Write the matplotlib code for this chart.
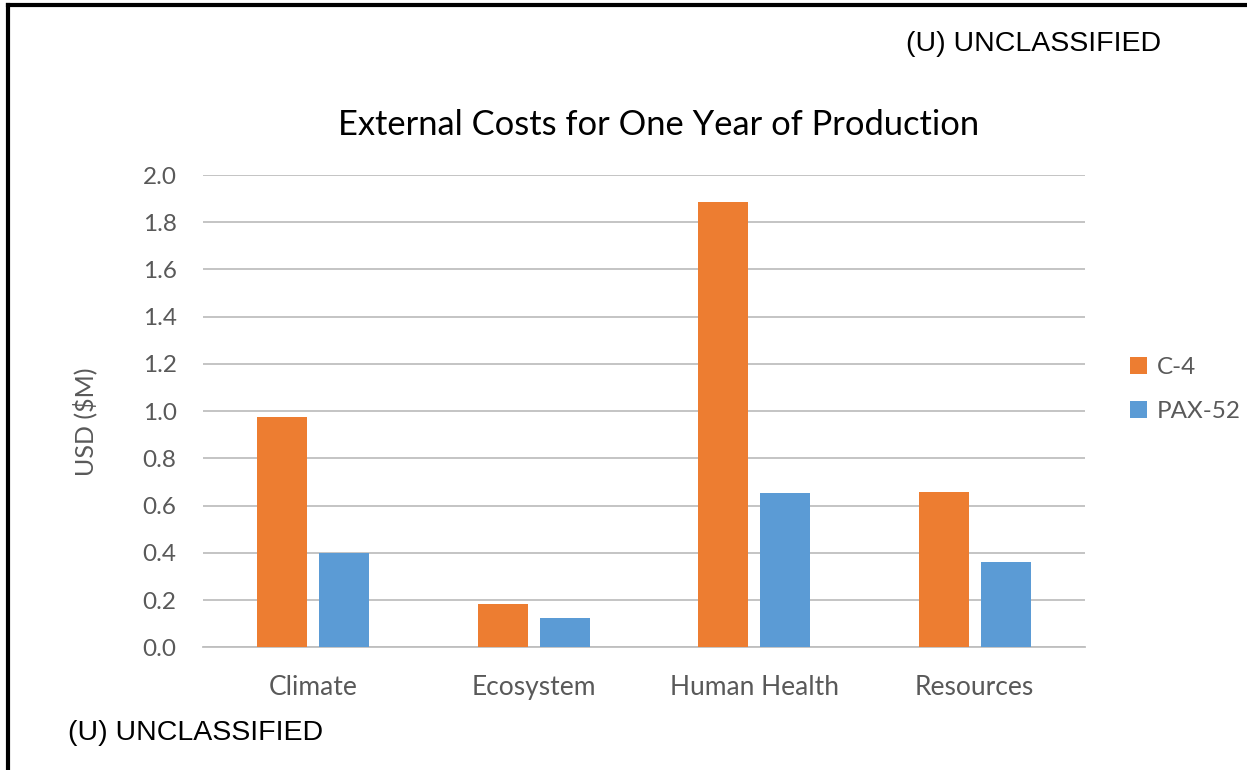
import matplotlib
matplotlib.use("Agg")
import matplotlib.pyplot as plt
import numpy as np
from matplotlib.lines import Line2D
from matplotlib.patches import Patch

categories = ["Climate", "Ecosystem", "Human Health", "Resources"]
c4_values = [0.976, 0.183, 1.887, 0.656]
pax52_values = [0.40, 0.124, 0.655, 0.362]
series_names = ["C-4", "PAX-52"]
y_ticks = [0.0, 0.2, 0.4, 0.6, 0.8, 1.0, 1.2, 1.4, 1.6, 1.8, 2.0]

ORANGE = "#ED7D31"
BLUE = "#5B9BD5"
GRID = "#BFBFBF"
TICK = "#595959"
FONT = ["Lato", "DejaVu Sans"]
MARK_FONT = ["Liberation Sans", "DejaVu Sans"]

fig = plt.figure(figsize=(12.47, 7.70), dpi=100)
fig.patch.set_facecolor("white")

ax = fig.add_axes([0.1628, 0.1594, 0.870 - 0.1628, 0.7727 - 0.1594])

x = np.arange(len(categories))
width = 0.227
offset = 0.141
ax.bar(x - offset, c4_values, width, color=ORANGE, label=series_names[0], zorder=3)
ax.bar(x + offset, pax52_values, width, color=BLUE, label=series_names[1], zorder=3)

ax.set_xlim(-0.5, len(categories) - 0.5)
ax.set_ylim(0, 2.0)
ax.set_yticks(y_ticks)
ax.set_yticklabels([f"{v:.1f}" for v in y_ticks], fontfamily=FONT, fontsize=17.5, color=TICK)
ax.set_xticks(x)
ax.set_xticklabels(categories, fontfamily=FONT, fontsize=19, color=TICK)
ax.tick_params(axis="both", length=0)
ax.tick_params(axis="y", pad=19)
ax.tick_params(axis="x", pad=20)
ax.yaxis.grid(True, color=GRID, linewidth=1.3, zorder=0)
ax.set_axisbelow(True)
for side in ["top", "right", "left"]:
    ax.spines[side].set_visible(False)
ax.spines["bottom"].set_color(GRID)
ax.spines["bottom"].set_linewidth(1.3)

fig.text(85 / 1247, 1 - 422 / 770, "USD ($M)", rotation=90, ha="center", va="center",
         fontfamily=FONT, fontsize=18, color=TICK)

fig.text(0.528, 0.838, "External Costs for One Year of Production",
         ha="center", va="center", fontfamily=FONT, fontsize=24.8, color="black")

handles = [Patch(facecolor=ORANGE), Patch(facecolor=BLUE)]
fig.legend(handles, series_names, loc="center left", bbox_to_anchor=(0.889, 0.494),
           frameon=False, prop={"family": FONT, "size": 17.5}, labelcolor=TICK,
           handlelength=0.7, handleheight=0.7, handletextpad=0.4, labelspacing=0.95)

fig.text(0.8285, 0.9425, "(U) UNCLASSIFIED", ha="center", va="center",
         fontfamily=MARK_FONT, fontsize=20.5, color="black")
fig.text(0.1565, 0.0475, "(U) UNCLASSIFIED", ha="center", va="center",
         fontfamily=MARK_FONT, fontsize=20.5, color="black")

# frame lines along the top and left edges
fig.add_artist(Line2D([0.0065, 0.0065], [0.0, 0.9935], transform=fig.transFigure,
                      color="black", linewidth=3))
fig.add_artist(Line2D([0.0065, 1.0], [0.9935, 0.9935], transform=fig.transFigure,
                      color="black", linewidth=3))

fig.savefig("out.png", dpi=100, facecolor="white")
